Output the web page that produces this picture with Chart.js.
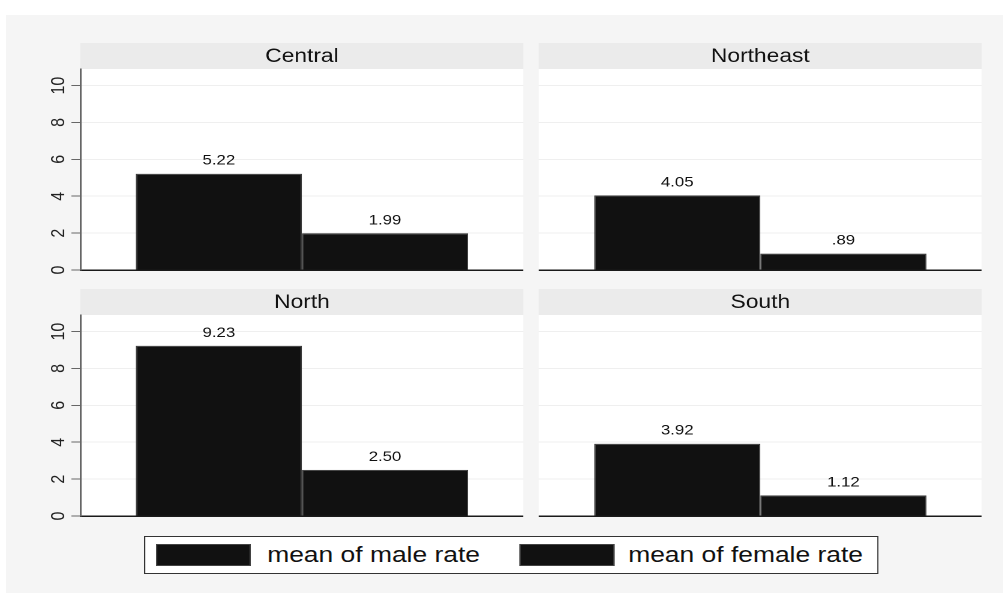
<!DOCTYPE html>
<html>
<head>
<meta charset="utf-8">
<script src="https://cdn.jsdelivr.net/npm/chart.js@4.4.1/dist/chart.umd.min.js"></script>
<style>
html,body{margin:0;padding:0;background:#fff;width:1003px;height:593px;overflow:hidden;font-family:"Liberation Sans",Arial,sans-serif;}
#bg{position:absolute;left:6px;top:15px;width:997px;height:578px;background:#f5f5f5;}
/* the original export is stretched sideways, so the whole stage is scaled in x */
#stage{position:absolute;left:0;top:0;width:836px;height:593px;transform:scaleX(1.2);transform-origin:0 0;}
.panel{position:absolute;}
#legend{position:absolute;background:#fff;border:1px solid #333;box-sizing:border-box;}
.sw{position:absolute;background:#111;border:1px solid #444;box-sizing:border-box;}
.lt{position:absolute;font-size:22px;color:#111;white-space:nowrap;line-height:1;}
</style>
</head>
<body>
<div id="bg"></div>
<div id="stage"></div>
<script>
/* ---------- data ---------- */
const regions      = ['Central','Northeast','North','South'];
const maleRate     = [5.22, 4.05, 9.23, 3.92];
const femaleRate   = [1.99, 0.89, 2.50, 1.12];
const seriesLabels = ['mean of male rate','mean of female rate'];
const yTicks       = [0, 2, 4, 6, 8, 10];
const yMax         = 10.9;

/* ---------- layout (real pixels, x gets divided by the stretch) ---------- */
const S = 1.2;
const px = x => x / S;
const HEAD = 26, PLOT_H = 201, BOTTOM_PAD = 4, AXIS_W = 36;
const panels = [
  {left:80,  right:523, top:43,  showY:true},
  {left:539, right:982, top:43,  showY:false},
  {left:80,  right:523, top:289, showY:true},
  {left:539, right:982, top:289, showY:false}
];
const FONT = '"Liberation Sans", Arial, sans-serif';
const fmt = v => v.toFixed(2).replace(/^0\./, '.');

/* ---------- plugins ---------- */
const panelFrame = {
  id:'panelFrame',
  beforeDraw(chart, args, opts){
    const {ctx, chartArea:a} = chart;
    ctx.save();
    ctx.fillStyle = '#fff';
    ctx.fillRect(a.left, a.top, a.right - a.left, a.bottom - a.top);
    ctx.fillStyle = '#ebebeb';
    ctx.fillRect(a.left, a.top - HEAD, a.right - a.left, HEAD);
    ctx.fillStyle = '#111';
    ctx.font = '19px ' + FONT;
    ctx.textAlign = 'center';
    ctx.textBaseline = 'middle';
    ctx.fillText(opts.text, (a.left + a.right) / 2, a.top - HEAD / 2 + 1);
    ctx.restore();
  }
};

const yLabels = {
  id:'yLabels',
  afterDraw(chart, args, opts){
    if(!opts.show) return;
    const s = chart.scales.y, ctx = chart.ctx;
    ctx.save();
    ctx.font = '16px ' + FONT;
    ctx.fillStyle = '#222';
    ctx.textAlign = 'center';
    ctx.textBaseline = 'middle';
    s.ticks.forEach(t => {
      ctx.save();
      ctx.translate(s.right - 18, s.getPixelForValue(t.value));
      ctx.rotate(-Math.PI / 2);
      ctx.fillText(String(t.value), 0, 0);
      ctx.restore();
    });
    ctx.restore();
  }
};

const valueLabels = {
  id:'valueLabels',
  afterDatasetsDraw(chart){
    const ctx = chart.ctx;
    ctx.save();
    ctx.font = '14px ' + FONT;
    ctx.fillStyle = '#111';
    ctx.textAlign = 'center';
    ctx.textBaseline = 'alphabetic';
    chart.data.datasets.forEach((ds, d) => {
      chart.getDatasetMeta(d).data.forEach((el, i) => {
        ctx.fillText(fmt(ds.data[i]), el.x, el.y - 9);
      });
    });
    ctx.restore();
  }
};

/* ---------- panels ---------- */
const stage = document.getElementById('stage');

panels.forEach((p, i) => {
  const leftU = px(p.left) - (p.showY ? AXIS_W : 0);
  const widthU = px(p.right) - leftU;
  const box = document.createElement('div');
  box.className = 'panel';
  box.style.left = leftU + 'px';
  box.style.top = p.top + 'px';
  box.style.width = widthU + 'px';
  box.style.height = (HEAD + PLOT_H + BOTTOM_PAD) + 'px';
  const cv = document.createElement('canvas');
  box.appendChild(cv);
  stage.appendChild(box);

  new Chart(cv, {
    type:'bar',
    data:{
      labels:[regions[i]],
      datasets:[
        {label:seriesLabels[0], data:[maleRate[i]],   backgroundColor:'#111', borderColor:'#3a3a3a', borderWidth:1},
        {label:seriesLabels[1], data:[femaleRate[i]], backgroundColor:'#111', borderColor:'#3a3a3a', borderWidth:1}
      ]
    },
    options:{
      responsive:true,
      maintainAspectRatio:false,
      animation:false,
      devicePixelRatio:2,
      layout:{padding:{top:HEAD, bottom:BOTTOM_PAD, left:0, right:0}},
      datasets:{bar:{categoryPercentage:0.75, barPercentage:1}},
      plugins:{
        legend:{display:false},
        tooltip:{enabled:false},
        panelFrame:{text:regions[i]},
        yLabels:{show:p.showY}
      },
      scales:{
        x:{
          afterFit:a => { a.height = 0; },
          grid:{display:false},
          ticks:{display:false},
          border:{display:true, color:'#1a1a1a', width:1.5}
        },
        y:{
          min:0, max:yMax,
          afterBuildTicks:a => { a.ticks = yTicks.map(v => ({value:v})); },
          afterFit:a => { a.width = p.showY ? AXIS_W : 0; },
          ticks:{display:false},
          grid:{color:'#efefef', lineWidth:1, drawTicks:p.showY, tickLength:7.5, tickColor:'#666'},
          border:{display:p.showY, color:'#666', width:1.5}
        }
      }
    },
    plugins:[panelFrame, yLabels, valueLabels]
  });
});

/* ---------- legend ---------- */
const lg = document.createElement('div');
lg.id = 'legend';
lg.style.left = px(144) + 'px';
lg.style.top = '536px';
lg.style.width = px(734) + 'px';
lg.style.height = '38px';
const items = [{sw:156, tx:267}, {sw:519, tx:628}];
seriesLabels.forEach((lab, k) => {
  const sw = document.createElement('div');
  sw.className = 'sw';
  sw.style.left = px(items[k].sw - 145) + 'px';
  sw.style.top = '7px';
  sw.style.width = px(95) + 'px';
  sw.style.height = '22px';
  const tx = document.createElement('div');
  tx.className = 'lt';
  tx.style.left = px(items[k].tx - 145) + 'px';
  tx.style.top = '7px';
  tx.textContent = lab;
  lg.appendChild(sw);
  lg.appendChild(tx);
});
stage.appendChild(lg);
</script>
</body>
</html>
